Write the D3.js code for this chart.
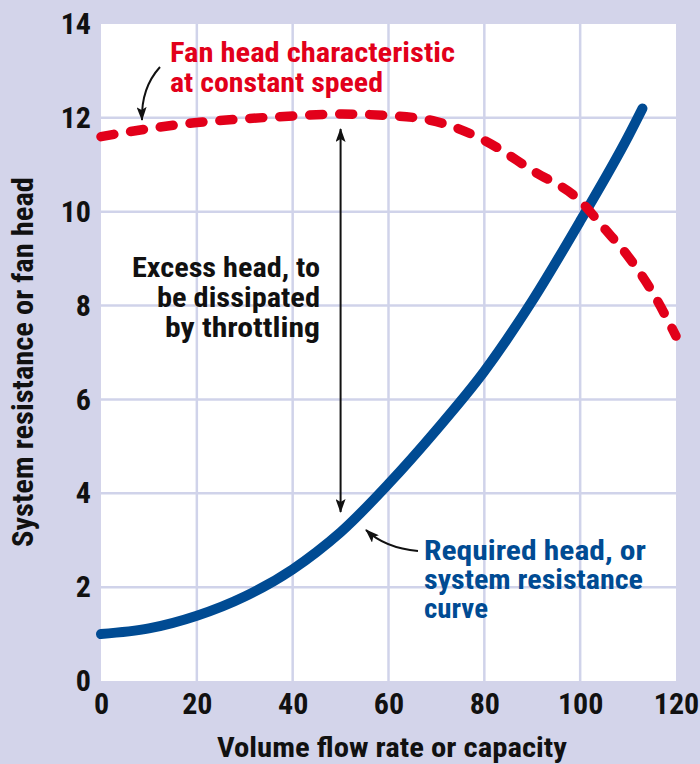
<!DOCTYPE html>
<html>
<head>
<meta charset="utf-8">
<script src="https://cdn.jsdelivr.net/npm/d3@7"></script>
<style>
  html, body { margin: 0; padding: 0; background: #d3d4ea; }
  svg { display: block; }
  text { font-family: "Liberation Sans Narrow", "Arial Narrow", "Roboto Condensed", "Liberation Sans", sans-serif; font-weight: bold; }
</style>
</head>
<body>
<svg id="chart" width="700" height="764"></svg>
<script>
// Axis ticks
const flowTicks = [0, 20, 40, 60, 80, 100, 120];
const headTicks = [0, 2, 4, 6, 8, 10, 12, 14];

// Fan head characteristic at constant speed
const fanFlow = [0, 10, 20, 30, 40, 50, 60, 70, 80, 90, 100, 105, 110, 115, 120];
const fanHead = [11.6, 11.77, 11.9, 11.98, 12.04, 12.08, 12.05, 11.92, 11.52, 10.88, 10.23, 9.65, 9.05, 8.3, 7.35];

// System resistance curve (required head)
const sysFlow = [0, 10, 20, 30, 40, 45, 50, 60, 70, 80, 90, 100, 110, 113];
const sysHead = [1.0, 1.12, 1.39, 1.8, 2.38, 2.75, 3.17, 4.2, 5.35, 6.6, 8.1, 9.8, 11.6, 12.2];

const RED = "#e2001a", BLUE = "#004b93", INK = "#111111", GRID = "#d0d3ea";

const svg = d3.select("#chart");
const x = d3.scaleLinear().domain([0, 120]).range([101, 676]);
const y = d3.scaleLinear().domain([0, 14]).range([681, 24]);

// Plot background
svg.append("rect")
  .attr("x", x(0)).attr("y", y(14))
  .attr("width", x(120) - x(0)).attr("height", y(0) - y(14))
  .attr("fill", "#ffffff");

// Grid lines
const g = svg.append("g");
g.selectAll("line.vx").data(flowTicks.filter(d => d > 0 && d < 120)).join("line")
  .attr("x1", d => x(d)).attr("x2", d => x(d))
  .attr("y1", y(14)).attr("y2", y(0))
  .attr("stroke", GRID).attr("stroke-width", 2.5);
g.selectAll("line.hy").data(headTicks.filter(d => d > 0 && d < 14)).join("line")
  .attr("x1", x(0)).attr("x2", x(120))
  .attr("y1", d => y(d)).attr("y2", d => y(d))
  .attr("stroke", GRID).attr("stroke-width", 2.5);

// Axes
const xAxis = svg.append("g").attr("transform", `translate(0,${y(0)})`)
  .call(d3.axisBottom(x).tickValues(flowTicks).tickSize(0).tickPadding(12).tickFormat(d3.format("d")));
const yAxis = svg.append("g").attr("transform", `translate(${x(0)},0)`)
  .call(d3.axisLeft(y).tickValues(headTicks).tickSize(0).tickPadding(10).tickFormat(d3.format("d")));
[xAxis, yAxis].forEach(a => {
  a.select(".domain").remove();
  a.selectAll("text").attr("fill", INK).style("font-size", "30px")
    .style("font-family", '"Liberation Sans Narrow", "Arial Narrow", "Roboto Condensed", "Liberation Sans", sans-serif')
    .style("font-weight", "bold");
});

// Curves
const line = d3.line().x(d => x(d[0])).y(d => y(d[1])).curve(d3.curveMonotoneX);
svg.append("path")
  .attr("d", line(sysFlow.map((f, i) => [f, sysHead[i]])))
  .attr("fill", "none").attr("stroke", BLUE).attr("stroke-width", 10)
  .attr("stroke-linecap", "round").attr("stroke-linejoin", "round");
svg.append("path")
  .attr("d", line(fanFlow.map((f, i) => [f, fanHead[i]])))
  .attr("fill", "none").attr("stroke", RED).attr("stroke-width", 9.5)
  .attr("stroke-linecap", "round").attr("stroke-dasharray", "13 17");

// Arrow heads
const defs = svg.append("defs");
defs.append("marker").attr("id", "head")
  .attr("viewBox", "0 0 14 10").attr("refX", 13).attr("refY", 5)
  .attr("markerWidth", 14).attr("markerHeight", 10)
  .attr("markerUnits", "userSpaceOnUse").attr("orient", "auto-start-reverse")
  .append("path").attr("d", "M0,0 L14,5 L0,10 L3,5 Z").attr("fill", INK);

// Excess head double arrow (between the two curves at flow 50)
svg.append("line")
  .attr("x1", x(50)).attr("x2", x(50))
  .attr("y1", 129).attr("y2", 512)
  .attr("stroke", INK).attr("stroke-width", 2)
  .attr("marker-start", "url(#head)").attr("marker-end", "url(#head)");

// Curved pointer arrows
svg.append("path").attr("d", "M160,67 Q141,88 142,120")
  .attr("fill", "none").attr("stroke", INK).attr("stroke-width", 2)
  .attr("marker-end", "url(#head)");
svg.append("path").attr("d", "M418,551 Q385,548 366,530")
  .attr("fill", "none").attr("stroke", INK).attr("stroke-width", 2)
  .attr("marker-end", "url(#head)");

// Annotation text
function label(lines, color, anchor) {
  lines.forEach(l => {
    svg.append("text").attr("x", l.x).attr("y", l.y)
      .attr("fill", color).attr("text-anchor", anchor)
      .style("font-size", l.size + "px")
      .attr("textLength", l.w).attr("lengthAdjust", "spacingAndGlyphs")
      .text(l.t);
  });
}
label([
  { t: "Fan head characteristic", x: 170, y: 62, w: 285, size: 27 },
  { t: "at constant speed", x: 170, y: 92, w: 213, size: 27 }
], RED, "start");
label([
  { t: "Excess head, to", x: 320, y: 277, w: 188, size: 27 },
  { t: "be dissipated", x: 320, y: 307, w: 163, size: 27 },
  { t: "by throttling", x: 320, y: 337, w: 155, size: 27 }
], INK, "end");
label([
  { t: "Required head, or", x: 424, y: 560, w: 222, size: 27 },
  { t: "system resistance", x: 424, y: 589, w: 219, size: 27 },
  { t: "curve", x: 424, y: 618, w: 64, size: 27 }
], BLUE, "start");

// Axis titles
svg.append("text").attr("x", 392).attr("y", 757).attr("text-anchor", "middle")
  .attr("fill", INK).style("font-size", "28px")
  .attr("textLength", 350).attr("lengthAdjust", "spacingAndGlyphs")
  .text("Volume flow rate or capacity");
svg.append("text").attr("transform", "translate(33,362) rotate(-90)")
  .attr("text-anchor", "middle").attr("fill", INK).style("font-size", "29px")
  .attr("textLength", 370).attr("lengthAdjust", "spacingAndGlyphs")
  .text("System resistance or fan head");
</script>
</body>
</html>
